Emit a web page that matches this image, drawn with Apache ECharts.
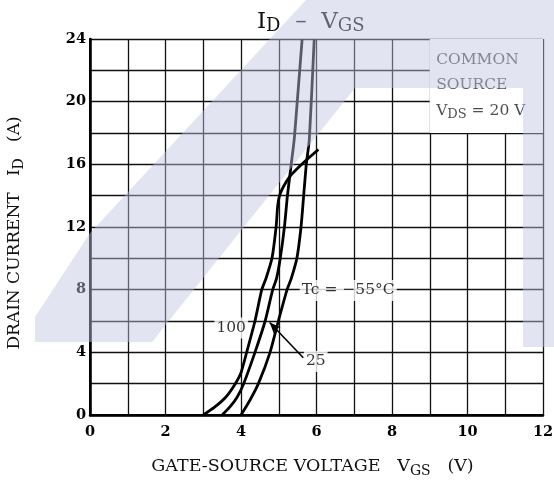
<!DOCTYPE html>
<html>
<head>
<meta charset="utf-8">
<script src="https://cdn.jsdelivr.net/npm/echarts@6/dist/echarts.min.js"></script>
<style>
  html, body { margin: 0; padding: 0; background: #fff; }
  #chart { width: 554px; height: 480px; }
</style>
</head>
<body>
<div id="chart"></div>
<script>
// ID - VGS transfer curves
const vgs100 = [3.0, 3.3, 3.6, 3.85, 4.0, 4.15, 4.37, 4.55, 4.66, 4.82, 4.93, 4.97, 5.02, 5.13, 5.3, 5.48, 5.61, 5.79, 6.05];
const id100  = [0, 0.5, 1.15, 2.0, 2.7, 4.0, 6.0, 8.0, 8.7, 10.0, 12.0, 13.3, 14.0, 14.6, 15.25, 15.7, 16.0, 16.4, 16.95];

const vgs25 = [3.5, 3.7, 3.9, 4.07, 4.37, 4.64, 4.84, 4.94, 5.04, 5.15, 5.23, 5.33, 5.41, 5.49, 5.62];
const id25  = [0, 0.5, 1.15, 2.0, 4.0, 6.0, 8.0, 8.7, 10.0, 12.0, 14.0, 16.0, 17.6, 20.0, 24];

const vgsM55 = [4.0, 4.24, 4.46, 4.77, 4.99, 5.22, 5.33, 5.48, 5.59, 5.66, 5.73, 5.81, 5.94];
const idM55  = [0, 0.96, 2.0, 4.0, 6.0, 8.0, 8.7, 10.0, 12.0, 14.0, 16.0, 17.6, 24];

// axis ticks
const xTicks = [0, 2, 4, 6, 8, 10, 12];
const yTicks = [0, 4, 8, 12, 16, 20, 24];

// curve labels (text, V, A)
const curveLabels = ['Tc = −55°C', '100', '25'];
const curveLabelX = [6.84, 3.74, 5.98];
const curveLabelY = [7.95, 5.55, 3.42];

// leader line from "25" to its curve
const leaderFrom = [5.65, 3.65];
const leaderTo = [4.76, 5.9];

// condition box
const noteLines = ['COMMON', 'SOURCE', '{n|V}{s|DS}{n| = 20 V}'];
const noteX = [9.17, 9.17, 9.17];
const noteY = [22.65, 21.05, 19.4];
const noteBox = [[9, 18], [12, 24]];

const FONT = 'DejaVu Serif';

const pairs = (xs, ys) => xs.map((x, i) => [x, ys[i]]);

const chart = echarts.init(document.getElementById('chart'));

const curveStyle = { color: '#000', width: 2.8 };

chart.setOption({
  animation: false,
  backgroundColor: '#fff',
  title: {
    text: '{a|I}{b|D}{a|  –  V}{b|GS}',
    left: 252,
    top: 4,
    textStyle: {
      rich: {
        a: { fontFamily: FONT, fontSize: 23, fontWeight: 'normal', color: '#111' },
        b: { fontFamily: FONT, fontSize: 18, fontWeight: 'normal', color: '#111', padding: [8, 0, 0, 0] }
      }
    }
  },
  grid: { left: 90, right: 11, top: 39, bottom: 65, show: false, outerBoundsMode: 'none' },
  xAxis: [
    {
      type: 'value', min: 0, max: 12, interval: 1,
      axisLine: { lineStyle: { color: '#000', width: 2.5 } },
      axisTick: { show: false },
      axisLabel: {
        fontFamily: FONT, fontSize: 14.5, fontWeight: 'bold', color: '#000', margin: 10,
        formatter: v => (xTicks.includes(v) ? String(v) : '')
      },
      splitLine: { show: true, lineStyle: { color: '#111', width: 1.3 } },
      name: '{n|GATE-SOURCE VOLTAGE   V}{s|GS}{n|   (V)}',
      nameLocation: 'middle',
      nameGap: 40,
      nameTextStyle: {
        padding: [0, 8, 0, 0],
        rich: {
          n: { fontFamily: FONT, fontSize: 17.5, color: '#111' },
          s: { fontFamily: FONT, fontSize: 14, color: '#111', padding: [9, 0, 0, 0] }
        }
      }
    },
    {
      type: 'value', min: 0, max: 12, position: 'top', z: 5,
      axisLine: { show: true, lineStyle: { color: '#000', width: 2 } },
      axisTick: { show: false }, axisLabel: { show: false }, splitLine: { show: false }
    }
  ],
  yAxis: [
    {
      type: 'value', min: 0, max: 24, interval: 2,
      axisLine: { show: true, lineStyle: { color: '#000', width: 2.5 } },
      axisTick: { show: false },
      axisLabel: {
        fontFamily: FONT, fontSize: 14.5, fontWeight: 'bold', color: '#000', margin: 4,
        formatter: v => (yTicks.includes(v) ? String(v) : '')
      },
      splitLine: { show: true, lineStyle: { color: '#111', width: 1.3 } },
      name: '{n|DRAIN CURRENT   I}{s|D}{n|   (A)}',
      nameLocation: 'middle',
      nameRotate: 90,
      nameGap: 64,
      nameTextStyle: {
        padding: [0, 12, 0, 0],
        rich: {
          n: { fontFamily: FONT, fontSize: 17, color: '#111' },
          s: { fontFamily: FONT, fontSize: 14, color: '#111', padding: [9, 0, 0, 0] }
        }
      }
    },
    {
      type: 'value', min: 0, max: 24, position: 'right', z: 5,
      axisLine: { show: true, lineStyle: { color: '#000', width: 2 } },
      axisTick: { show: false }, axisLabel: { show: false }, splitLine: { show: false }
    }
  ],
  series: [
    {
      name: 'Tc = 100', type: 'line', smooth: 0.2, symbol: 'none',
      lineStyle: curveStyle, data: pairs(vgs100, id100),
      // blank out the grid behind the condition box
      markArea: {
        silent: true,
        itemStyle: { color: '#fff', opacity: 1 },
        data: [[{ coord: noteBox[0] }, { coord: noteBox[1] }]]
      }
    },
    {
      name: 'Tc = 25', type: 'line', smooth: 0.2, symbol: 'none',
      lineStyle: curveStyle, data: pairs(vgs25, id25),
      markLine: {
        silent: true,
        symbol: ['none', 'arrow'],
        symbolSize: [7, 11],
        label: { show: false },
        lineStyle: { color: '#000', width: 1.6, type: 'solid' },
        data: [[{ coord: leaderFrom }, { coord: leaderTo }]]
      }
    },
    {
      name: 'Tc = -55', type: 'line', smooth: 0.2, symbol: 'none',
      lineStyle: curveStyle, data: pairs(vgsM55, idM55)
    },
    {
      name: 'curve labels', type: 'scatter', symbolSize: 0, z: 4,
      data: curveLabels.map((t, i) => ({ name: t, value: [curveLabelX[i], curveLabelY[i]] })),
      label: {
        show: true, position: 'inside', formatter: '{b}',
        fontFamily: FONT, fontSize: 15.5, color: '#000',
        backgroundColor: '#fff', padding: [3, 2, 2, 2]
      }
    },
    {
      name: 'conditions', type: 'scatter', symbolSize: 0, z: 4,
      data: noteLines.map((t, i) => ({ name: t, value: [noteX[i], noteY[i]] })),
      label: {
        show: true, position: 'right', distance: 0, formatter: '{b}',
        fontFamily: FONT, fontSize: 15.5, color: '#222',
        rich: {
          n: { fontFamily: FONT, fontSize: 15.5, color: '#222' },
          s: { fontFamily: FONT, fontSize: 13, color: '#222', padding: [8, 0, 0, 0] }
        }
      }
    }
  ],
  // faint scan watermark lying over the page
  graphic: [
    {
      type: 'polygon', silent: true, z: 100,
      shape: { points: [[306, 0], [90, 233], [35, 317], [35, 342], [152, 342], [355, 88], [523, 88], [523, 347], [554, 347], [554, 0]] },
      style: { fill: 'rgba(192,198,224,0.46)' }
    }
  ]
});
</script>
</body>
</html>
